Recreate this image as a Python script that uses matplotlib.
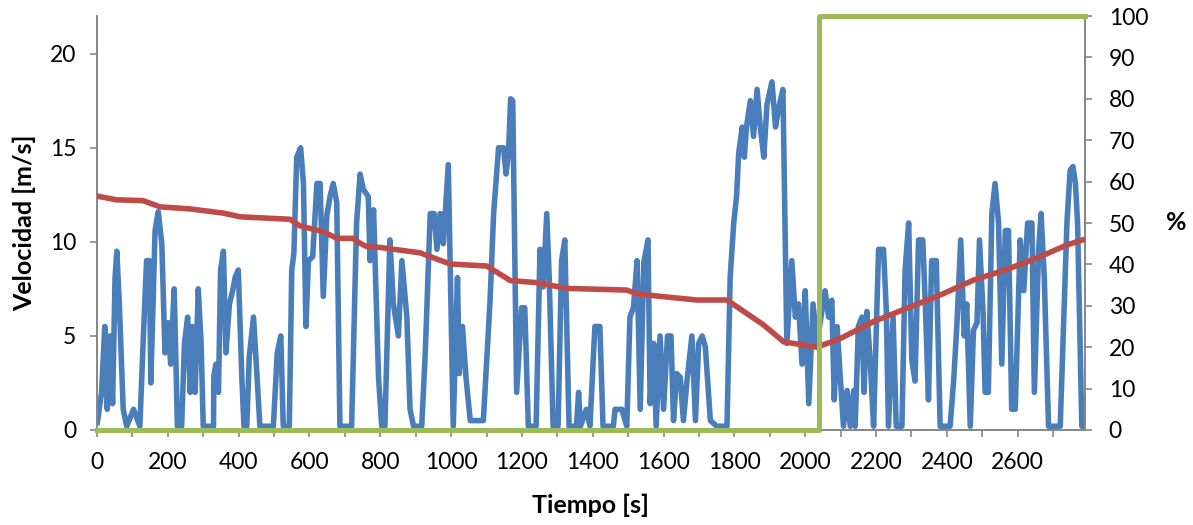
import matplotlib
matplotlib.use("Agg")
import matplotlib.pyplot as plt
from matplotlib.ticker import MultipleLocator

plt.rcParams['font.family'] = ['Lato', 'DejaVu Sans']

# velocity trace [s], [m/s]
time_s = [1, 13, 22, 29, 37, 44, 51, 56, 63, 74, 84, 103, 121, 131, 140, 148, 152, 164, 173,
          183, 192, 201, 208, 218, 227, 239, 247, 256, 263, 269, 277, 286, 294, 300, 329, 330,
          336, 343, 349, 357, 364, 374, 383, 390, 399, 409, 415, 423, 430, 442, 448, 460, 498,
          509, 519, 526, 543, 550, 556, 564, 575, 583, 590, 597, 609, 621, 630, 639, 649, 658,
          667, 677, 686, 719, 733, 743, 752, 766, 771, 781, 795, 804, 813, 827, 837, 851, 861,
          875, 884, 894, 917, 927, 941, 952, 960, 969, 978, 992, 1006, 1018, 1023, 1032, 1042,
          1054, 1091, 1110, 1120, 1134, 1148, 1155, 1162, 1168, 1174, 1185, 1199, 1208, 1218,
          1240, 1251, 1260, 1270, 1277, 1288, 1302, 1312, 1321, 1333, 1354, 1360, 1365, 1382,
          1392, 1406, 1420, 1429, 1458, 1463, 1482, 1496, 1505, 1515, 1525, 1534, 1544, 1556,
          1562, 1572, 1579, 1590, 1600, 1611, 1621, 1628, 1637, 1647, 1656, 1666, 1680, 1690,
          1699, 1709, 1718, 1732, 1750, 1779, 1788, 1798, 1806, 1812, 1822, 1828, 1834, 1845,
          1854, 1864, 1873, 1883, 1892, 1906, 1916, 1925, 1937, 1948, 1962, 1972, 1981, 1991,
          2000, 2010, 2022, 2033, 2056, 2066, 2075, 2082, 2090, 2099, 2108, 2118, 2127, 2137,
          2141, 2150, 2160, 2166, 2174, 2184, 2193, 2207, 2221, 2229, 2235, 2248, 2257, 2273,
          2282, 2292, 2301, 2310, 2320, 2332, 2339, 2348, 2357, 2370, 2381, 2409, 2419, 2428,
          2439, 2449, 2456, 2466, 2475, 2485, 2492, 2502, 2508, 2517, 2527, 2536, 2546, 2555,
          2565, 2574, 2583, 2593, 2607, 2617, 2628, 2640, 2647, 2659, 2666, 2675, 2687, 2720,
          2739, 2748, 2756, 2763, 2769, 2781, 2790]
velocity_ms = [0.4, 2.0, 5.5, 1.1, 5.0, 1.4, 8.1, 9.5, 6.7, 1.1, 0.2, 1.1, 0.2, 5.0, 9.0, 9.0, 2.5,
               10.6, 11.6, 9.9, 4.1, 5.7, 3.5, 7.5, 0.2, 0.2, 4.6, 6.0, 2.0, 5.5, 2.0, 7.5, 4.6,
               0.2, 0.2, 2.9, 3.5, 2.0, 8.5, 9.5, 4.1, 6.7, 7.4, 8.1, 8.5, 2.8, 0.2, 0.2, 3.9,
               6.0, 4.1, 0.2, 0.2, 4.1, 5.0, 0.2, 0.2, 8.5, 9.4, 14.5, 15.0, 13.1, 5.5, 9.0, 9.2,
               13.1, 13.1, 7.1, 11.4, 12.4, 13.1, 12.1, 0.2, 0.2, 11.0, 13.6, 12.8, 12.4, 9.0,
               11.7, 2.8, 0.2, 0.2, 10.1, 6.7, 5.0, 9.0, 6.0, 1.1, 0.2, 0.2, 4.1, 11.5, 11.5,
               9.6, 11.5, 9.9, 14.1, 0.2, 8.1, 3.0, 5.5, 2.8, 0.5, 0.5, 6.9, 11.5, 15.0, 15.0,
               13.6, 14.7, 17.6, 17.5, 2.0, 6.5, 6.5, 0.2, 0.2, 9.6, 7.6, 11.5, 8.1, 0.2, 0.2,
               9.0, 10.1, 0.2, 0.2, 2.0, 0.2, 1.1, 0.2, 5.5, 5.5, 0.2, 0.2, 1.1, 1.1, 0.2, 6.0,
               6.5, 9.0, 1.1, 8.9, 10.1, 1.4, 4.6, 0.2, 5.0, 1.1, 5.0, 5.0, 0.5, 3.0, 2.8, 0.5,
               2.6, 5.0, 0.5, 4.6, 5.0, 4.4, 0.5, 0.2, 0.2, 8.1, 11.0, 12.4, 14.7, 16.1, 14.5,
               16.1, 17.5, 15.6, 18.1, 16.1, 14.5, 17.3, 18.5, 16.1, 17.1, 18.1, 4.6, 9.0, 6.0,
               6.7, 3.5, 7.4, 1.4, 6.7, 4.6, 7.4, 6.0, 6.9, 1.6, 5.5, 2.8, 0.2, 2.1, 0.2, 2.1,
               0.2, 5.5, 6.0, 2.0, 6.3, 3.5, 0.2, 9.6, 9.6, 6.3, 0.2, 6.0, 0.2, 0.2, 8.5, 11.0,
               3.7, 2.6, 10.1, 10.1, 6.7, 1.6, 9.0, 9.0, 0.2, 0.2, 2.6, 5.5, 10.1, 5.0, 6.7, 0.2,
               5.3, 5.7, 10.1, 6.3, 2.0, 2.0, 11.5, 13.1, 11.0, 3.5, 10.6, 10.6, 1.1, 1.1, 10.1,
               7.4, 11.0, 11.0, 2.0, 9.6, 11.5, 8.1, 0.2, 0.2, 11.0, 13.8, 14.0, 13.1, 11.0, 0.2,
               0.1]

# battery state of charge [%]
soc_time = [0, 55, 130, 178, 263, 356, 404, 545, 573, 639, 677, 723, 743, 762, 799, 912, 997,
            1101, 1167, 1242, 1327, 1496, 1525, 1553, 1694, 1779, 1882, 1939, 2033, 2099, 2193,
            2287, 2381, 2475, 2570, 2664, 2739, 2790]
soc_pct = [56.5, 55.6, 55.4, 53.9, 53.4, 52.4, 51.5, 50.9, 49.3, 47.9, 46.3, 46.3, 45.1, 44.3,
           44.1, 42.8, 40.1, 39.6, 36.1, 35.6, 34.2, 33.8, 32.9, 32.6, 31.4, 31.4, 25.4, 21.3,
           20.0, 22.1, 26.2, 29.4, 32.6, 36.2, 38.8, 41.9, 44.7, 46.1]

# operating mode signal [%]
mode_time = [0, 2040, 2040, 2790]
mode_pct = [0, 0, 100, 100]

BLUE = '#4A7EBB'
RED = '#BE4B48'
GREEN = '#9BBB59'
GRAY = '#868686'

fig, ax = plt.subplots(figsize=(11.93, 5.25), dpi=100)
fig.subplots_adjust(left=97 / 1193, right=1085 / 1193, top=1 - 16 / 525, bottom=1 - 430 / 525)
ax2 = ax.twinx()

ax.plot(time_s, velocity_ms, color=BLUE, lw=4, solid_joinstyle='round', zorder=2)
ax2.plot(soc_time, soc_pct, color=RED, lw=4, solid_joinstyle='round', zorder=3)
ax2.plot(mode_time, mode_pct, color=GREEN, lw=3.6, clip_on=False, zorder=4)

ax.set_xlim(0, 2790)
ax.set_ylim(0, 22)
ax2.set_ylim(0, 100)
ax.xaxis.set_major_locator(MultipleLocator(200))
ax.xaxis.set_minor_locator(MultipleLocator(100))
ax.yaxis.set_major_locator(MultipleLocator(5))
ax2.yaxis.set_major_locator(MultipleLocator(10))

for a in (ax, ax2):
    for s in a.spines.values():
        s.set_color(GRAY)
        s.set_linewidth(1.2)
    a.spines['top'].set_visible(False)
    a.tick_params(which='both', color=GRAY, width=1.2, length=5, labelsize=16.5)
ax.tick_params(axis='x', which='both', pad=11)
ax.tick_params(axis='y', pad=10)
ax2.tick_params(axis='y', pad=12)
ax2.set_zorder(ax.get_zorder() + 1)
ax2.patch.set_visible(False)

ax.set_xlabel('Tiempo [s]', fontsize=18, fontweight='bold', labelpad=15)
ax.set_ylabel('Velocidad [m/s]', fontsize=18, fontweight='bold', labelpad=10)
ax2.set_ylabel('%', fontsize=18, fontweight='bold', rotation=0, labelpad=20, va='center')

fig.savefig('out.png', dpi=100)
